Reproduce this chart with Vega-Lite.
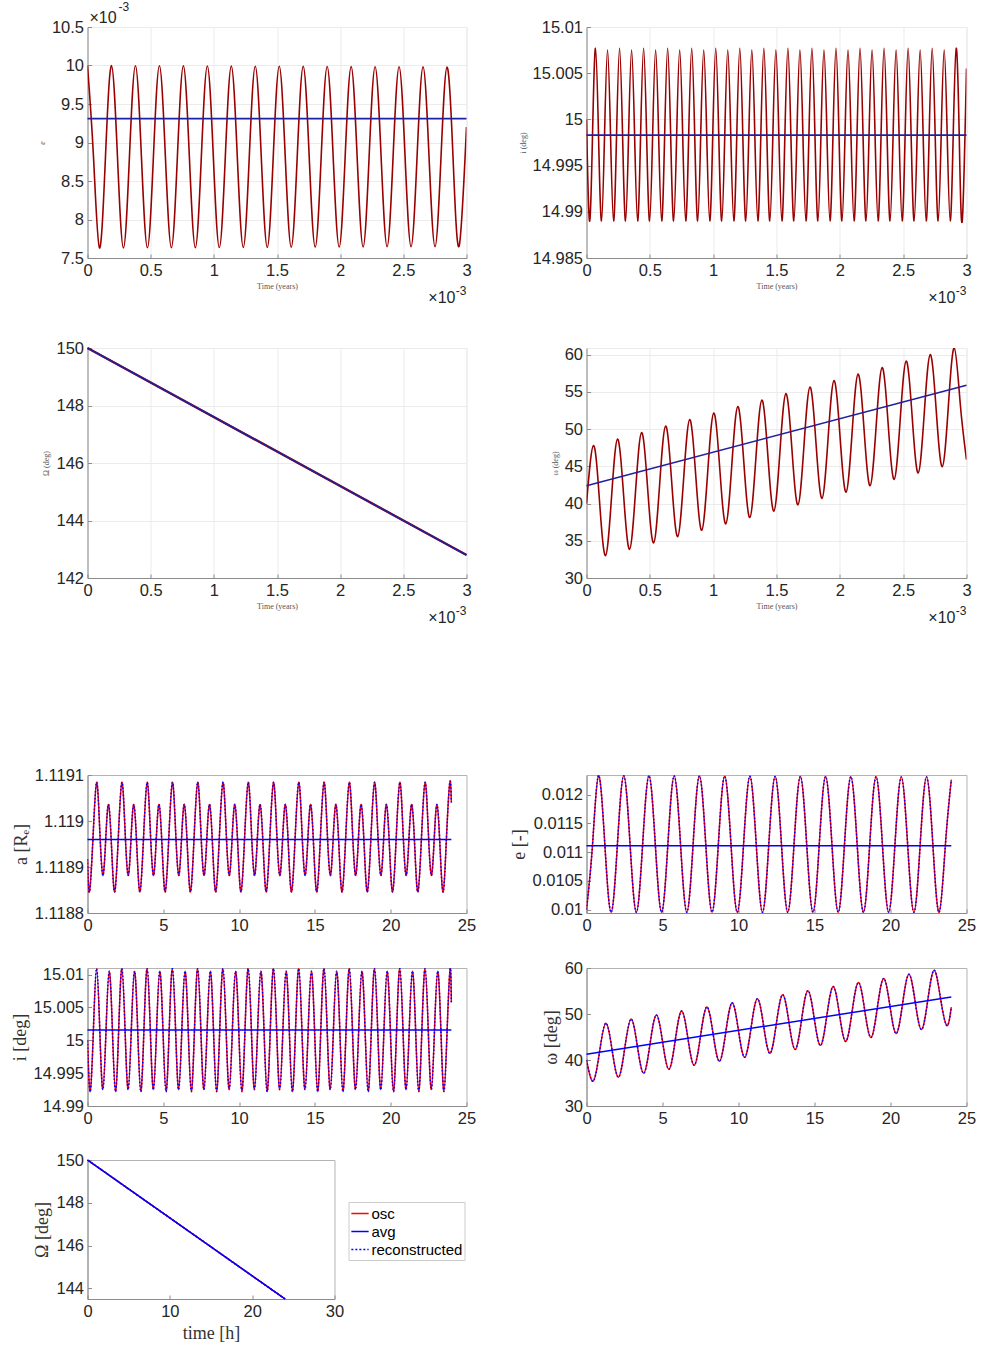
{
"$schema": "https://vega.github.io/schema/vega-lite/v6.json",
"background": "white",
"padding": {"left": 10.5, "top": 0, "right": 5, "bottom": 5},
"config": {
  "font": "Liberation Sans",
  "view": {"stroke": "#b4b4b4", "strokeWidth": 1},
  "axis": {"labelFont": "Liberation Sans", "labelFontSize": 16.5, "labelColor": "#262626", "domainColor": "#8c8c8c", "tickColor": "#8c8c8c", "tickSize": -4, "labelPadding": 8, "grid": false, "gridColor": "#ebebeb", "labelFlush": false, "labelOverlap": false, "labelBound": false, "titleFont": "Liberation Serif", "titleFontWeight": "normal", "titleColor": "#333333", "titleFontSize": 18, "titlePadding": 4},
  "text": {"font": "Liberation Sans"}
},
"datasets": {
  "e1": [
    {"t":0,"v":10.0},{"t":0.0474,"v":8.815},{"t":0.0949,"v":7.63},{"t":0.1423,"v":8.815},
    {"t":0.1897,"v":9.999},{"t":0.2372,"v":8.815},{"t":0.2846,"v":7.631},{"t":0.332,"v":8.815},
    {"t":0.3794,"v":9.997},{"t":0.4269,"v":8.815},{"t":0.4743,"v":7.633},{"t":0.5217,"v":8.815},
    {"t":0.5692,"v":9.996},{"t":0.6166,"v":8.815},{"t":0.664,"v":7.634},{"t":0.7115,"v":8.815},
    {"t":0.7589,"v":9.995},{"t":0.8063,"v":8.815},{"t":0.8537,"v":7.635},{"t":0.9012,"v":8.815},
    {"t":0.9486,"v":9.993},{"t":0.996,"v":8.815},{"t":1.0435,"v":7.637},{"t":1.0909,"v":8.815},
    {"t":1.1383,"v":9.992},{"t":1.1858,"v":8.815},{"t":1.2332,"v":7.638},{"t":1.2806,"v":8.815},
    {"t":1.328,"v":9.991},{"t":1.3755,"v":8.815},{"t":1.4229,"v":7.639},{"t":1.4703,"v":8.815},
    {"t":1.5178,"v":9.99},{"t":1.5652,"v":8.815},{"t":1.6126,"v":7.64},{"t":1.6601,"v":8.815},
    {"t":1.7075,"v":9.988},{"t":1.7549,"v":8.815},{"t":1.8023,"v":7.642},{"t":1.8498,"v":8.815},
    {"t":1.8972,"v":9.987},{"t":1.9446,"v":8.815},{"t":1.9921,"v":7.643},{"t":2.0395,"v":8.815},
    {"t":2.0869,"v":9.986},{"t":2.1344,"v":8.815},{"t":2.1818,"v":7.644},{"t":2.2292,"v":8.815},
    {"t":2.2766,"v":9.984},{"t":2.3241,"v":8.815},{"t":2.3715,"v":7.646},{"t":2.4189,"v":8.815},
    {"t":2.4664,"v":9.983},{"t":2.5138,"v":8.815},{"t":2.5612,"v":7.647},{"t":2.6087,"v":8.815},
    {"t":2.6561,"v":9.982},{"t":2.7035,"v":8.815},{"t":2.7509,"v":7.648},{"t":2.7984,"v":8.815},
    {"t":2.8458,"v":9.98},{"t":2.8932,"v":8.815},{"t":2.9407,"v":7.65},{"t":3.0,"v":9.2}
  ],
  "i1": [
    {"t":0,"v":15.0},{"t":0.0237,"v":14.989},{"t":0.0475,"v":14.9983},{"t":0.0712,"v":15.0077},
    {"t":0.0949,"v":14.9983},{"t":0.1187,"v":14.989},{"t":0.1424,"v":14.9983},{"t":0.1661,"v":15.0075},
    {"t":0.1898,"v":14.9983},{"t":0.2136,"v":14.989},{"t":0.2373,"v":14.9983},{"t":0.261,"v":15.0077},
    {"t":0.2848,"v":14.9983},{"t":0.3085,"v":14.989},{"t":0.3322,"v":14.9983},{"t":0.356,"v":15.0075},
    {"t":0.3797,"v":14.9983},{"t":0.4034,"v":14.989},{"t":0.4271,"v":14.9983},{"t":0.4509,"v":15.0077},
    {"t":0.4746,"v":14.9983},{"t":0.4983,"v":14.989},{"t":0.5221,"v":14.9983},{"t":0.5458,"v":15.0075},
    {"t":0.5695,"v":14.9983},{"t":0.5933,"v":14.989},{"t":0.617,"v":14.9983},{"t":0.6407,"v":15.0077},
    {"t":0.6644,"v":14.9983},{"t":0.6882,"v":14.989},{"t":0.7119,"v":14.9983},{"t":0.7356,"v":15.0075},
    {"t":0.7594,"v":14.9983},{"t":0.7831,"v":14.989},{"t":0.8068,"v":14.9983},{"t":0.8306,"v":15.0077},
    {"t":0.8543,"v":14.9983},{"t":0.878,"v":14.989},{"t":0.9017,"v":14.9983},{"t":0.9255,"v":15.0075},
    {"t":0.9492,"v":14.9983},{"t":0.9729,"v":14.989},{"t":0.9967,"v":14.9983},{"t":1.0204,"v":15.0077},
    {"t":1.0441,"v":14.9983},{"t":1.0679,"v":14.989},{"t":1.0916,"v":14.9983},{"t":1.1153,"v":15.0075},
    {"t":1.139,"v":14.9983},{"t":1.1628,"v":14.989},{"t":1.1865,"v":14.9983},{"t":1.2102,"v":15.0077},
    {"t":1.234,"v":14.9983},{"t":1.2577,"v":14.989},{"t":1.2814,"v":14.9983},{"t":1.3052,"v":15.0075},
    {"t":1.3289,"v":14.9983},{"t":1.3526,"v":14.989},{"t":1.3763,"v":14.9983},{"t":1.4001,"v":15.0077},
    {"t":1.4238,"v":14.9983},{"t":1.4475,"v":14.989},{"t":1.4713,"v":14.9983},{"t":1.495,"v":15.0075},
    {"t":1.5187,"v":14.9983},{"t":1.5425,"v":14.989},{"t":1.5662,"v":14.9983},{"t":1.5899,"v":15.0077},
    {"t":1.6136,"v":14.9983},{"t":1.6374,"v":14.989},{"t":1.6611,"v":14.9983},{"t":1.6848,"v":15.0075},
    {"t":1.7086,"v":14.9983},{"t":1.7323,"v":14.989},{"t":1.756,"v":14.9983},{"t":1.7798,"v":15.0077},
    {"t":1.8035,"v":14.9983},{"t":1.8272,"v":14.989},{"t":1.8509,"v":14.9983},{"t":1.8747,"v":15.0075},
    {"t":1.8984,"v":14.9983},{"t":1.9221,"v":14.989},{"t":1.9459,"v":14.9983},{"t":1.9696,"v":15.0077},
    {"t":1.9933,"v":14.9983},{"t":2.0171,"v":14.989},{"t":2.0408,"v":14.9983},{"t":2.0645,"v":15.0075},
    {"t":2.0882,"v":14.9983},{"t":2.112,"v":14.989},{"t":2.1357,"v":14.9983},{"t":2.1594,"v":15.0077},
    {"t":2.1832,"v":14.9983},{"t":2.2069,"v":14.989},{"t":2.2306,"v":14.9983},{"t":2.2544,"v":15.0075},
    {"t":2.2781,"v":14.9983},{"t":2.3018,"v":14.989},{"t":2.3255,"v":14.9983},{"t":2.3493,"v":15.0077},
    {"t":2.373,"v":14.9983},{"t":2.3967,"v":14.989},{"t":2.4205,"v":14.9983},{"t":2.4442,"v":15.0075},
    {"t":2.4679,"v":14.9983},{"t":2.4917,"v":14.989},{"t":2.5154,"v":14.9983},{"t":2.5391,"v":15.0077},
    {"t":2.5628,"v":14.9983},{"t":2.5866,"v":14.989},{"t":2.6103,"v":14.9983},{"t":2.634,"v":15.0075},
    {"t":2.6578,"v":14.9983},{"t":2.6815,"v":14.989},{"t":2.7052,"v":14.9983},{"t":2.729,"v":15.0077},
    {"t":2.7527,"v":14.9983},{"t":2.7764,"v":14.989},{"t":2.8001,"v":14.9983},{"t":2.8239,"v":15.0075},
    {"t":2.8476,"v":14.9983},{"t":2.8713,"v":14.989},{"t":2.8951,"v":14.9983},{"t":2.9188,"v":15.0077},
    {"t":2.9425,"v":14.9983},{"t":2.9663,"v":14.989},{"t":3.0,"v":15.0055}
  ],
  "w1": [
    {"t":0,"v":40.0},{"t":0.055,"v":47.8},{"t":0.1025,"v":40.4},{"t":0.15,"v":33.0},{"t":0.1975,"v":40.84},
    {"t":0.2449,"v":48.67},{"t":0.2924,"v":41.26},{"t":0.3399,"v":33.85},{"t":0.3874,"v":41.7},
    {"t":0.4348,"v":49.55},{"t":0.4823,"v":42.13},{"t":0.5298,"v":34.71},{"t":0.5773,"v":42.56},
    {"t":0.6247,"v":50.42},{"t":0.6722,"v":42.99},{"t":0.7197,"v":35.56},{"t":0.7672,"v":43.43},
    {"t":0.8146,"v":51.29},{"t":0.8621,"v":43.85},{"t":0.9096,"v":36.42},{"t":0.9571,"v":44.29},
    {"t":1.0045,"v":52.17},{"t":1.052,"v":44.72},{"t":1.0995,"v":37.27},{"t":1.147,"v":45.15},
    {"t":1.1944,"v":53.04},{"t":1.2419,"v":45.58},{"t":1.2894,"v":38.12},{"t":1.3369,"v":46.02},
    {"t":1.3843,"v":53.91},{"t":1.4318,"v":46.44},{"t":1.4793,"v":38.98},{"t":1.5268,"v":46.88},
    {"t":1.5742,"v":54.78},{"t":1.6217,"v":47.31},{"t":1.6692,"v":39.83},{"t":1.7167,"v":47.74},
    {"t":1.7641,"v":55.66},{"t":1.8116,"v":48.17},{"t":1.8591,"v":40.69},{"t":1.9066,"v":48.61},
    {"t":1.954,"v":56.53},{"t":2.0015,"v":49.03},{"t":2.049,"v":41.54},{"t":2.0965,"v":49.47},
    {"t":2.1439,"v":57.4},{"t":2.1914,"v":49.9},{"t":2.2389,"v":42.39},{"t":2.2864,"v":50.34},
    {"t":2.3338,"v":58.28},{"t":2.3813,"v":50.76},{"t":2.4288,"v":43.25},{"t":2.4763,"v":51.2},
    {"t":2.5237,"v":59.15},{"t":2.5712,"v":51.63},{"t":2.6187,"v":44.1},{"t":2.6662,"v":52.06},
    {"t":2.7136,"v":60.02},{"t":2.7611,"v":52.49},{"t":2.8086,"v":44.96},{"t":2.8561,"v":52.93},
    {"t":2.9035,"v":60.9},{"t":2.951,"v":53.35},{"t":3.0,"v":45.9}
  ],
  "a2": [
    {"t":0,"v":1.118917},
    {"t":0.13,"v":1.118846},{"t":0.365,"v":1.118965},{"t":0.6,"v":1.119084},{"t":0.805,"v":1.118983},{"t":1.01,"v":1.118882},{"t":1.2,"v":1.118959},{"t":1.39,"v":1.119036},{"t":1.59,"v":1.118941},
    {"t":1.797,"v":1.118846},{"t":2.032,"v":1.118965},{"t":2.267,"v":1.119084},{"t":2.472,"v":1.118983},{"t":2.677,"v":1.118882},{"t":2.867,"v":1.118959},{"t":3.057,"v":1.119036},{"t":3.257,"v":1.118941},
    {"t":3.463,"v":1.118846},{"t":3.698,"v":1.118965},{"t":3.933,"v":1.119084},{"t":4.138,"v":1.118983},{"t":4.343,"v":1.118882},{"t":4.533,"v":1.118959},{"t":4.723,"v":1.119036},{"t":4.923,"v":1.118941},
    {"t":5.13,"v":1.118846},{"t":5.365,"v":1.118965},{"t":5.6,"v":1.119084},{"t":5.805,"v":1.118983},{"t":6.01,"v":1.118882},{"t":6.2,"v":1.118959},{"t":6.39,"v":1.119036},{"t":6.59,"v":1.118941},
    {"t":6.797,"v":1.118846},{"t":7.032,"v":1.118965},{"t":7.267,"v":1.119084},{"t":7.472,"v":1.118983},{"t":7.677,"v":1.118882},{"t":7.867,"v":1.118959},{"t":8.057,"v":1.119036},{"t":8.257,"v":1.118941},
    {"t":8.463,"v":1.118846},{"t":8.698,"v":1.118965},{"t":8.933,"v":1.119084},{"t":9.138,"v":1.118983},{"t":9.343,"v":1.118882},{"t":9.533,"v":1.118959},{"t":9.723,"v":1.119036},{"t":9.923,"v":1.118941},
    {"t":10.13,"v":1.118846},{"t":10.365,"v":1.118965},{"t":10.6,"v":1.119084},{"t":10.805,"v":1.118983},{"t":11.01,"v":1.118882},{"t":11.2,"v":1.118959},{"t":11.39,"v":1.119036},{"t":11.59,"v":1.118941},
    {"t":11.797,"v":1.118846},{"t":12.032,"v":1.118965},{"t":12.267,"v":1.119084},{"t":12.472,"v":1.118983},{"t":12.677,"v":1.118882},{"t":12.867,"v":1.118959},{"t":13.057,"v":1.119036},{"t":13.257,"v":1.118941},
    {"t":13.463,"v":1.118846},{"t":13.698,"v":1.118965},{"t":13.933,"v":1.119084},{"t":14.138,"v":1.118983},{"t":14.343,"v":1.118882},{"t":14.533,"v":1.118959},{"t":14.723,"v":1.119036},{"t":14.923,"v":1.118941},
    {"t":15.13,"v":1.118846},{"t":15.365,"v":1.118965},{"t":15.6,"v":1.119084},{"t":15.805,"v":1.118983},{"t":16.01,"v":1.118882},{"t":16.2,"v":1.118959},{"t":16.39,"v":1.119036},{"t":16.59,"v":1.118941},
    {"t":16.797,"v":1.118846},{"t":17.032,"v":1.118965},{"t":17.267,"v":1.119084},{"t":17.472,"v":1.118983},{"t":17.677,"v":1.118882},{"t":17.867,"v":1.118959},{"t":18.057,"v":1.119036},{"t":18.257,"v":1.118941},
    {"t":18.463,"v":1.118846},{"t":18.698,"v":1.118965},{"t":18.933,"v":1.119084},{"t":19.138,"v":1.118983},{"t":19.343,"v":1.118882},{"t":19.533,"v":1.118959},{"t":19.723,"v":1.119036},{"t":19.923,"v":1.118941},
    {"t":20.13,"v":1.118846},{"t":20.365,"v":1.118965},{"t":20.6,"v":1.119084},{"t":20.805,"v":1.118983},{"t":21.01,"v":1.118882},{"t":21.2,"v":1.118959},{"t":21.39,"v":1.119036},{"t":21.59,"v":1.118941},
    {"t":21.797,"v":1.118846},{"t":22.032,"v":1.118965},{"t":22.267,"v":1.119084},{"t":22.472,"v":1.118983},{"t":22.677,"v":1.118882},{"t":22.867,"v":1.118959},{"t":23.057,"v":1.119036},{"t":23.257,"v":1.118941},
    {"t":23.463,"v":1.118846},{"t":23.68,"v":1.118965},{"t":23.9,"v":1.119084},{"t":24.0,"v":1.11904}
  ],
  "e2": [
    {"t":0,"v":0.01},{"t":0.4,"v":0.01114},
    {"t":0.79,"v":0.01233},{"t":1.205,"v":0.01114},{"t":1.62,"v":0.009954},{"t":2.035,"v":0.01114},
    {"t":2.45,"v":0.012328},{"t":2.865,"v":0.01114},{"t":3.28,"v":0.009954},{"t":3.695,"v":0.01114},
    {"t":4.11,"v":0.012326},{"t":4.525,"v":0.01114},{"t":4.94,"v":0.009954},{"t":5.355,"v":0.01114},
    {"t":5.77,"v":0.012324},{"t":6.185,"v":0.01114},{"t":6.6,"v":0.009954},{"t":7.015,"v":0.01114},
    {"t":7.43,"v":0.012322},{"t":7.845,"v":0.01114},{"t":8.26,"v":0.009954},{"t":8.675,"v":0.01114},
    {"t":9.09,"v":0.01232},{"t":9.505,"v":0.01114},{"t":9.92,"v":0.009954},{"t":10.335,"v":0.01114},
    {"t":10.75,"v":0.012318},{"t":11.165,"v":0.01114},{"t":11.58,"v":0.009954},{"t":11.995,"v":0.01114},
    {"t":12.41,"v":0.012316},{"t":12.825,"v":0.01114},{"t":13.24,"v":0.009954},{"t":13.655,"v":0.01114},
    {"t":14.07,"v":0.012314},{"t":14.485,"v":0.01114},{"t":14.9,"v":0.009954},{"t":15.315,"v":0.01114},
    {"t":15.73,"v":0.012312},{"t":16.145,"v":0.01114},{"t":16.56,"v":0.009954},{"t":16.975,"v":0.01114},
    {"t":17.39,"v":0.01231},{"t":17.805,"v":0.01114},{"t":18.22,"v":0.009954},{"t":18.635,"v":0.01114},
    {"t":19.05,"v":0.012308},{"t":19.465,"v":0.01114},{"t":19.88,"v":0.009954},{"t":20.295,"v":0.01114},
    {"t":20.71,"v":0.012306},{"t":21.125,"v":0.01114},{"t":21.54,"v":0.009954},{"t":21.955,"v":0.01114},
    {"t":22.37,"v":0.012304},{"t":22.785,"v":0.01114},{"t":23.2,"v":0.009954},{"t":23.615,"v":0.01114},
    {"t":24.0,"v":0.012257}
  ],
  "i2": [
    {"t":0,"v":15.0},
    {"t":0.18,"v":14.9922},{"t":0.39,"v":15.0016},{"t":0.6,"v":15.0109},{"t":0.81,"v":15.0016},
    {"t":1.013,"v":14.9925},{"t":1.223,"v":15.0016},{"t":1.433,"v":15.0105},{"t":1.643,"v":15.0016},
    {"t":1.847,"v":14.9922},{"t":2.057,"v":15.0016},{"t":2.267,"v":15.0109},{"t":2.477,"v":15.0016},
    {"t":2.68,"v":14.9925},{"t":2.89,"v":15.0016},{"t":3.1,"v":15.0105},{"t":3.31,"v":15.0016},
    {"t":3.513,"v":14.9922},{"t":3.723,"v":15.0016},{"t":3.933,"v":15.0109},{"t":4.143,"v":15.0016},
    {"t":4.347,"v":14.9925},{"t":4.557,"v":15.0016},{"t":4.767,"v":15.0105},{"t":4.977,"v":15.0016},
    {"t":5.18,"v":14.9922},{"t":5.39,"v":15.0016},{"t":5.6,"v":15.0109},{"t":5.81,"v":15.0016},
    {"t":6.013,"v":14.9925},{"t":6.223,"v":15.0016},{"t":6.433,"v":15.0105},{"t":6.643,"v":15.0016},
    {"t":6.847,"v":14.9922},{"t":7.057,"v":15.0016},{"t":7.267,"v":15.0109},{"t":7.477,"v":15.0016},
    {"t":7.68,"v":14.9925},{"t":7.89,"v":15.0016},{"t":8.1,"v":15.0105},{"t":8.31,"v":15.0016},
    {"t":8.513,"v":14.9922},{"t":8.723,"v":15.0016},{"t":8.933,"v":15.0109},{"t":9.143,"v":15.0016},
    {"t":9.347,"v":14.9925},{"t":9.557,"v":15.0016},{"t":9.767,"v":15.0105},{"t":9.977,"v":15.0016},
    {"t":10.18,"v":14.9922},{"t":10.39,"v":15.0016},{"t":10.6,"v":15.0109},{"t":10.81,"v":15.0016},
    {"t":11.013,"v":14.9925},{"t":11.223,"v":15.0016},{"t":11.433,"v":15.0105},{"t":11.643,"v":15.0016},
    {"t":11.847,"v":14.9922},{"t":12.057,"v":15.0016},{"t":12.267,"v":15.0109},{"t":12.477,"v":15.0016},
    {"t":12.68,"v":14.9925},{"t":12.89,"v":15.0016},{"t":13.1,"v":15.0105},{"t":13.31,"v":15.0016},
    {"t":13.513,"v":14.9922},{"t":13.723,"v":15.0016},{"t":13.933,"v":15.0109},{"t":14.143,"v":15.0016},
    {"t":14.347,"v":14.9925},{"t":14.557,"v":15.0016},{"t":14.767,"v":15.0105},{"t":14.977,"v":15.0016},
    {"t":15.18,"v":14.9922},{"t":15.39,"v":15.0016},{"t":15.6,"v":15.0109},{"t":15.81,"v":15.0016},
    {"t":16.013,"v":14.9925},{"t":16.223,"v":15.0016},{"t":16.433,"v":15.0105},{"t":16.643,"v":15.0016},
    {"t":16.847,"v":14.9922},{"t":17.057,"v":15.0016},{"t":17.267,"v":15.0109},{"t":17.477,"v":15.0016},
    {"t":17.68,"v":14.9925},{"t":17.89,"v":15.0016},{"t":18.1,"v":15.0105},{"t":18.31,"v":15.0016},
    {"t":18.513,"v":14.9922},{"t":18.723,"v":15.0016},{"t":18.933,"v":15.0109},{"t":19.143,"v":15.0016},
    {"t":19.347,"v":14.9925},{"t":19.557,"v":15.0016},{"t":19.767,"v":15.0105},{"t":19.977,"v":15.0016},
    {"t":20.18,"v":14.9922},{"t":20.39,"v":15.0016},{"t":20.6,"v":15.0109},{"t":20.81,"v":15.0016},
    {"t":21.013,"v":14.9925},{"t":21.223,"v":15.0016},{"t":21.433,"v":15.0105},{"t":21.643,"v":15.0016},
    {"t":21.847,"v":14.9922},{"t":22.057,"v":15.0016},{"t":22.267,"v":15.0109},{"t":22.477,"v":15.0016},
    {"t":22.68,"v":14.9925},{"t":22.89,"v":15.0016},{"t":23.1,"v":15.0105},{"t":23.31,"v":15.0016},
    {"t":23.513,"v":14.9922},{"t":23.723,"v":15.0016},{"t":23.92,"v":15.0109},{"t":24.0,"v":15.0058}
  ],
  "w2": [
    {"t":0,"v":40.0},
    {"t":0.44,"v":35.4},{"t":0.855,"v":41.7},{"t":1.27,"v":48.0},{"t":1.686,"v":42.13},
    {"t":2.102,"v":36.26},{"t":2.517,"v":42.57},{"t":2.932,"v":48.89},{"t":3.347,"v":43.01},
    {"t":3.763,"v":37.13},{"t":4.178,"v":43.45},{"t":4.593,"v":49.77},{"t":5.009,"v":43.88},
    {"t":5.425,"v":37.99},{"t":5.84,"v":44.32},{"t":6.255,"v":50.66},{"t":6.67,"v":44.76},
    {"t":7.086,"v":38.86},{"t":7.501,"v":45.2},{"t":7.916,"v":51.54},{"t":8.332,"v":45.63},
    {"t":8.748,"v":39.72},{"t":9.163,"v":46.07},{"t":9.578,"v":52.43},{"t":9.993,"v":46.5},
    {"t":10.409,"v":40.58},{"t":10.824,"v":46.95},{"t":11.239,"v":53.31},{"t":11.655,"v":47.38},
    {"t":12.071,"v":41.45},{"t":12.486,"v":47.82},{"t":12.901,"v":54.2},{"t":13.316,"v":48.25},
    {"t":13.732,"v":42.31},{"t":14.147,"v":48.7},{"t":14.562,"v":55.08},{"t":14.978,"v":49.13},
    {"t":15.394,"v":43.18},{"t":15.809,"v":49.57},{"t":16.224,"v":55.97},{"t":16.639,"v":50.0},
    {"t":17.055,"v":44.04},{"t":17.47,"v":50.45},{"t":17.885,"v":56.85},{"t":18.301,"v":50.88},
    {"t":18.717,"v":44.9},{"t":19.132,"v":51.32},{"t":19.547,"v":57.74},{"t":19.962,"v":51.75},
    {"t":20.378,"v":45.77},{"t":20.793,"v":52.2},{"t":21.208,"v":58.62},{"t":21.624,"v":52.63},
    {"t":22.04,"v":46.63},{"t":22.455,"v":53.07},{"t":22.87,"v":59.51},{"t":23.285,"v":53.5},
    {"t":23.701,"v":47.5},{"t":24.0,"v":51.5}
  ],
  "o9": [
    {"s":"osc","t":0,"v":150},{"s":"osc","t":24,"v":143.5},
    {"s":"avg","t":0,"v":150},{"s":"avg","t":24,"v":143.5},
    {"s":"reconstructed","t":0,"v":150},{"s":"reconstructed","t":24,"v":143.5}
  ]
},
"columns": 2,
"spacing": {"row": 0, "column": 120},
"bounds": "flush",
"align": "each",
"concat": [
  {
    "width": 379, "height": 231,
    "view": {"stroke": "#ebebeb"},
    "layer": [
      {"data": {"name": "e1"}, "mark": {"type": "line", "color": "#990000", "strokeWidth": 1.6, "interpolate": "natural", "clip": true},
       "encoding": {
         "x": {"field": "t", "type": "quantitative", "scale": {"domain": [0, 3], "nice": false}, "axis": {"values": [0, 0.5, 1, 1.5, 2, 2.5, 3], "tickCount": 30, "format": ".6~g", "grid": true, "title": "Time (years)", "titleFontSize": 8, "titleColor": "#555555", "titlePadding": 4}},
         "y": {"field": "v", "type": "quantitative", "scale": {"domain": [7.5, 10.5], "nice": false, "zero": false}, "axis": {"values": [7.5, 8, 8.5, 9, 9.5, 10, 10.5], "tickCount": 30, "format": ".6~g", "grid": true, "title": "e", "titleFontSize": 8, "titleFontStyle": "italic", "titleColor": "#555555", "titlePadding": 5}}
       }},
      {"data": {"values": [{"t": 0, "v": 9.31}, {"t": 3, "v": 9.31}]}, "mark": {"type": "line", "color": "#20209f", "strokeWidth": 1.6},
       "encoding": {"x": {"field": "t", "type": "quantitative"}, "y": {"field": "v", "type": "quantitative"}}},
      {"data": {"values": [{}]}, "mark": {"type": "text", "align": "left", "baseline": "alphabetic", "dx": 2, "dy": -4, "fontSize": 16, "color": "#262626"},
       "encoding": {"x": {"datum": 0}, "y": {"datum": 10.5}, "text": {"value": "×10"}}},
      {"data": {"values": [{}]}, "mark": {"type": "text", "align": "left", "baseline": "alphabetic", "dx": 31, "dy": -16, "fontSize": 12, "color": "#262626"},
       "encoding": {"x": {"datum": 0}, "y": {"datum": 10.5}, "text": {"value": "-3"}}},
      {"data": {"values": [{}]}, "mark": {"type": "text", "align": "right", "baseline": "alphabetic", "dx": -11, "dy": 45, "fontSize": 16, "color": "#262626"},
       "encoding": {"x": {"datum": 3}, "y": {"datum": 7.5}, "text": {"value": "×10"}}},
      {"data": {"values": [{}]}, "mark": {"type": "text", "align": "right", "baseline": "alphabetic", "dx": 0, "dy": 37, "fontSize": 12, "color": "#262626"},
       "encoding": {"x": {"datum": 3}, "y": {"datum": 7.5}, "text": {"value": "-3"}}}
    ]
  },
  {
    "width": 380, "height": 231,
    "view": {"stroke": "#ebebeb"},
    "layer": [
      {"data": {"name": "i1"}, "mark": {"type": "line", "color": "#990000", "strokeWidth": 1.6, "interpolate": "natural", "clip": true},
       "encoding": {
         "x": {"field": "t", "type": "quantitative", "scale": {"domain": [0, 3], "nice": false}, "axis": {"values": [0, 0.5, 1, 1.5, 2, 2.5, 3], "tickCount": 30, "format": ".6~g", "grid": true, "title": "Time (years)", "titleFontSize": 8, "titleColor": "#555555", "titlePadding": 4}},
         "y": {"field": "v", "type": "quantitative", "scale": {"domain": [14.985, 15.01], "nice": false, "zero": false}, "axis": {"values": [14.985, 14.99, 14.995, 15, 15.005, 15.01], "tickCount": 30, "format": ".6~g", "grid": true, "title": "i (deg)", "titleFontSize": 8, "titleColor": "#555555", "titlePadding": 5}}
       }},
      {"data": {"values": [{"t": 0, "v": 14.9983}, {"t": 3, "v": 14.9983}]}, "mark": {"type": "line", "color": "#20209f", "strokeWidth": 1.6},
       "encoding": {"x": {"field": "t", "type": "quantitative"}, "y": {"field": "v", "type": "quantitative"}}},
      {"data": {"values": [{}]}, "mark": {"type": "text", "align": "right", "baseline": "alphabetic", "dx": -11, "dy": 45, "fontSize": 16, "color": "#262626"},
       "encoding": {"x": {"datum": 3}, "y": {"datum": 14.985}, "text": {"value": "×10"}}},
      {"data": {"values": [{}]}, "mark": {"type": "text", "align": "right", "baseline": "alphabetic", "dx": 0, "dy": 37, "fontSize": 12, "color": "#262626"},
       "encoding": {"x": {"datum": 3}, "y": {"datum": 14.985}, "text": {"value": "-3"}}}
    ]
  },
  {"width": 10, "height": 90, "view": {"stroke": null}, "data": {"values": [{}]}, "mark": {"type": "text"}, "encoding": {"text": {"value": ""}}},
  {"width": 10, "height": 90, "view": {"stroke": null}, "data": {"values": [{}]}, "mark": {"type": "text"}, "encoding": {"text": {"value": ""}}},
  {
    "width": 379, "height": 230,
    "view": {"stroke": "#ebebeb"},
    "layer": [
      {"data": {"values": [{"t": 0, "v": 150}, {"t": 3, "v": 142.8}]}, "mark": {"type": "line", "color": "#990000", "strokeWidth": 2.4},
       "encoding": {
         "x": {"field": "t", "type": "quantitative", "scale": {"domain": [0, 3], "nice": false}, "axis": {"values": [0, 0.5, 1, 1.5, 2, 2.5, 3], "tickCount": 30, "format": ".6~g", "grid": true, "title": "Time (years)", "titleFontSize": 8, "titleColor": "#555555", "titlePadding": 4}},
         "y": {"field": "v", "type": "quantitative", "scale": {"domain": [142, 150], "nice": false, "zero": false}, "axis": {"values": [142, 144, 146, 148, 150], "tickCount": 30, "format": ".6~g", "grid": true, "title": "Ω (deg)", "titleFontSize": 8, "titleColor": "#555555", "titlePadding": 5}}
       }},
      {"data": {"values": [{"t": 0, "v": 150}, {"t": 3, "v": 142.8}]}, "mark": {"type": "line", "color": "#20209f", "strokeWidth": 1.6},
       "encoding": {"x": {"field": "t", "type": "quantitative"}, "y": {"field": "v", "type": "quantitative"}}},
      {"data": {"values": [{}]}, "mark": {"type": "text", "align": "right", "baseline": "alphabetic", "dx": -11, "dy": 45, "fontSize": 16, "color": "#262626"},
       "encoding": {"x": {"datum": 3}, "y": {"datum": 142}, "text": {"value": "×10"}}},
      {"data": {"values": [{}]}, "mark": {"type": "text", "align": "right", "baseline": "alphabetic", "dx": 0, "dy": 37, "fontSize": 12, "color": "#262626"},
       "encoding": {"x": {"datum": 3}, "y": {"datum": 142}, "text": {"value": "-3"}}}
    ]
  },
  {
    "width": 380, "height": 230,
    "view": {"stroke": "#ebebeb"},
    "layer": [
      {"data": {"name": "w1"}, "mark": {"type": "line", "color": "#990000", "strokeWidth": 1.6, "interpolate": "natural", "clip": true},
       "encoding": {
         "x": {"field": "t", "type": "quantitative", "scale": {"domain": [0, 3], "nice": false}, "axis": {"values": [0, 0.5, 1, 1.5, 2, 2.5, 3], "tickCount": 30, "format": ".6~g", "grid": true, "title": "Time (years)", "titleFontSize": 8, "titleColor": "#555555", "titlePadding": 4}},
         "y": {"field": "v", "type": "quantitative", "scale": {"domain": [30, 60.9], "nice": false, "zero": false}, "axis": {"values": [30, 35, 40, 45, 50, 55, 60], "tickCount": 30, "format": ".6~g", "grid": true, "title": "ω (deg)", "titleFontSize": 8, "titleColor": "#555555", "titlePadding": 5}}
       }},
      {"data": {"values": [{"t": 0, "v": 42.4}, {"t": 3, "v": 55.9}]}, "mark": {"type": "line", "color": "#20209f", "strokeWidth": 1.6},
       "encoding": {"x": {"field": "t", "type": "quantitative"}, "y": {"field": "v", "type": "quantitative"}}},
      {"data": {"values": [{}]}, "mark": {"type": "text", "align": "right", "baseline": "alphabetic", "dx": -11, "dy": 45, "fontSize": 16, "color": "#262626"},
       "encoding": {"x": {"datum": 3}, "y": {"datum": 30}, "text": {"value": "×10"}}},
      {"data": {"values": [{}]}, "mark": {"type": "text", "align": "right", "baseline": "alphabetic", "dx": 0, "dy": 37, "fontSize": 12, "color": "#262626"},
       "encoding": {"x": {"datum": 3}, "y": {"datum": 30}, "text": {"value": "-3"}}}
    ]
  },
  {"width": 10, "height": 197, "view": {"stroke": null}, "data": {"values": [{}]}, "mark": {"type": "text"}, "encoding": {"text": {"value": ""}}},
  {"width": 10, "height": 197, "view": {"stroke": null}, "data": {"values": [{}]}, "mark": {"type": "text"}, "encoding": {"text": {"value": ""}}},
  {
    "width": 379, "height": 138,
    "layer": [
      {"data": {"name": "a2"}, "mark": {"type": "line", "color": "#ff0000", "strokeWidth": 1.5, "interpolate": "natural", "clip": true},
       "encoding": {
         "x": {"field": "t", "type": "quantitative", "scale": {"domain": [0, 25], "nice": false}, "axis": {"values": [0, 5, 10, 15, 20, 25], "tickCount": 30, "format": ".6~g", "title": null}},
         "y": {"field": "v", "type": "quantitative", "scale": {"domain": [1.1188, 1.1191], "nice": false, "zero": false}, "axis": {"values": [1.1188, 1.1189, 1.119, 1.1191], "tickCount": 30, "format": ".6~g", "title": "a [Rₑ]"}}
       }},
      {"data": {"values": [{"t": 0, "v": 1.11896}, {"t": 24, "v": 1.11896}]}, "mark": {"type": "line", "color": "#0000ff", "strokeWidth": 1.5},
       "encoding": {"x": {"field": "t", "type": "quantitative"}, "y": {"field": "v", "type": "quantitative"}}},
      {"data": {"name": "a2"}, "mark": {"type": "line", "color": "#0000ff", "strokeWidth": 1.5, "strokeDash": [1.5, 2], "interpolate": "natural", "clip": true},
       "encoding": {"x": {"field": "t", "type": "quantitative"}, "y": {"field": "v", "type": "quantitative"}}}
    ]
  },
  {
    "width": 380, "height": 138,
    "layer": [
      {"data": {"name": "e2"}, "mark": {"type": "line", "color": "#ff0000", "strokeWidth": 1.5, "interpolate": "natural", "clip": true},
       "encoding": {
         "x": {"field": "t", "type": "quantitative", "scale": {"domain": [0, 25], "nice": false}, "axis": {"values": [0, 5, 10, 15, 20, 25], "tickCount": 30, "format": ".6~g", "title": null}},
         "y": {"field": "v", "type": "quantitative", "scale": {"domain": [0.00994, 0.01234], "nice": false, "zero": false}, "axis": {"values": [0.01, 0.0105, 0.011, 0.0115, 0.012], "tickCount": 30, "format": ".6~g", "title": "e [-]"}}
       }},
      {"data": {"values": [{"t": 0, "v": 0.011109}, {"t": 24, "v": 0.011109}]}, "mark": {"type": "line", "color": "#0000ff", "strokeWidth": 1.5},
       "encoding": {"x": {"field": "t", "type": "quantitative"}, "y": {"field": "v", "type": "quantitative"}}},
      {"data": {"name": "e2"}, "mark": {"type": "line", "color": "#0000ff", "strokeWidth": 1.5, "strokeDash": [1.5, 2], "interpolate": "natural", "clip": true},
       "encoding": {"x": {"field": "t", "type": "quantitative"}, "y": {"field": "v", "type": "quantitative"}}}
    ]
  },
  {"width": 10, "height": 55, "view": {"stroke": null}, "data": {"values": [{}]}, "mark": {"type": "text"}, "encoding": {"text": {"value": ""}}},
  {"width": 10, "height": 55, "view": {"stroke": null}, "data": {"values": [{}]}, "mark": {"type": "text"}, "encoding": {"text": {"value": ""}}},
  {
    "width": 379, "height": 138,
    "layer": [
      {"data": {"name": "i2"}, "mark": {"type": "line", "color": "#ff0000", "strokeWidth": 1.5, "interpolate": "natural", "clip": true},
       "encoding": {
         "x": {"field": "t", "type": "quantitative", "scale": {"domain": [0, 25], "nice": false}, "axis": {"values": [0, 5, 10, 15, 20, 25], "tickCount": 30, "format": ".6~g", "title": null}},
         "y": {"field": "v", "type": "quantitative", "scale": {"domain": [14.99, 15.011], "nice": false, "zero": false}, "axis": {"values": [14.99, 14.995, 15, 15.005, 15.01], "tickCount": 30, "format": ".6~g", "title": "i [deg]"}}
       }},
      {"data": {"values": [{"t": 0, "v": 15.00157}, {"t": 24, "v": 15.00157}]}, "mark": {"type": "line", "color": "#0000ff", "strokeWidth": 1.5},
       "encoding": {"x": {"field": "t", "type": "quantitative"}, "y": {"field": "v", "type": "quantitative"}}},
      {"data": {"name": "i2"}, "mark": {"type": "line", "color": "#0000ff", "strokeWidth": 1.5, "strokeDash": [1.5, 2], "interpolate": "natural", "clip": true},
       "encoding": {"x": {"field": "t", "type": "quantitative"}, "y": {"field": "v", "type": "quantitative"}}}
    ]
  },
  {
    "width": 380, "height": 138,
    "layer": [
      {"data": {"name": "w2"}, "mark": {"type": "line", "color": "#ff0000", "strokeWidth": 1.5, "interpolate": "natural", "clip": true},
       "encoding": {
         "x": {"field": "t", "type": "quantitative", "scale": {"domain": [0, 25], "nice": false}, "axis": {"values": [0, 5, 10, 15, 20, 25], "tickCount": 30, "format": ".6~g", "title": null}},
         "y": {"field": "v", "type": "quantitative", "scale": {"domain": [30, 60], "nice": false, "zero": false}, "axis": {"values": [30, 40, 50, 60], "tickCount": 30, "format": ".6~g", "title": "ω [deg]"}}
       }},
      {"data": {"values": [{"t": 0, "v": 41.26}, {"t": 24, "v": 53.7}]}, "mark": {"type": "line", "color": "#0000ff", "strokeWidth": 1.5},
       "encoding": {"x": {"field": "t", "type": "quantitative"}, "y": {"field": "v", "type": "quantitative"}}},
      {"data": {"name": "w2"}, "mark": {"type": "line", "color": "#0000ff", "strokeWidth": 1.5, "strokeDash": [1.5, 2], "interpolate": "natural", "clip": true},
       "encoding": {"x": {"field": "t", "type": "quantitative"}, "y": {"field": "v", "type": "quantitative"}}}
    ]
  },
  {"width": 10, "height": 54, "view": {"stroke": null}, "data": {"values": [{}]}, "mark": {"type": "text"}, "encoding": {"text": {"value": ""}}},
  {"width": 10, "height": 54, "view": {"stroke": null}, "data": {"values": [{}]}, "mark": {"type": "text"}, "encoding": {"text": {"value": ""}}},
  {
    "width": 247, "height": 139,
    "data": {"name": "o9"},
    "mark": {"type": "line", "strokeWidth": 1.5},
    "encoding": {
      "x": {"field": "t", "type": "quantitative", "scale": {"domain": [0, 30], "nice": false}, "axis": {"values": [0, 10, 20, 30], "tickCount": 30, "format": ".6~g", "title": "time [h]", "titlePadding": 5}},
      "y": {"field": "v", "type": "quantitative", "scale": {"domain": [143.5, 150], "nice": false, "zero": false}, "axis": {"values": [144, 146, 148, 150], "tickCount": 30, "format": ".6~g", "title": "Ω [deg]"}},
      "color": {"field": "s", "type": "nominal", "scale": {"domain": ["osc", "avg", "reconstructed"], "range": ["#ff0000", "#0000ff", "#0000ff"]},
        "legend": {"orient": "none", "legendX": 261, "legendY": 1175, "title": null, "symbolType": "stroke", "symbolSize": 300, "symbolStrokeWidth": 1.5, "labelFontSize": 15, "labelFont": "Liberation Sans", "labelColor": "#000000", "strokeColor": "#cccccc", "fillColor": "white", "padding": 2, "rowPadding": 0, "labelOffset": 2}},
      "strokeDash": {"field": "s", "type": "nominal", "scale": {"domain": ["osc", "avg", "reconstructed"], "range": [[1, 0], [1, 0], [2, 2]]},
        "legend": {"orient": "none", "legendX": 261, "legendY": 1175, "title": null, "symbolType": "stroke", "symbolSize": 300, "symbolStrokeWidth": 1.5, "labelFontSize": 15, "labelFont": "Liberation Sans", "labelColor": "#000000", "strokeColor": "#cccccc", "fillColor": "white", "padding": 2, "rowPadding": 0, "labelOffset": 2}}
    }
  },
  {"width": 10, "height": 139, "view": {"stroke": null}, "data": {"values": [{}]}, "mark": {"type": "text"}, "encoding": {"text": {"value": ""}}}
]
}
